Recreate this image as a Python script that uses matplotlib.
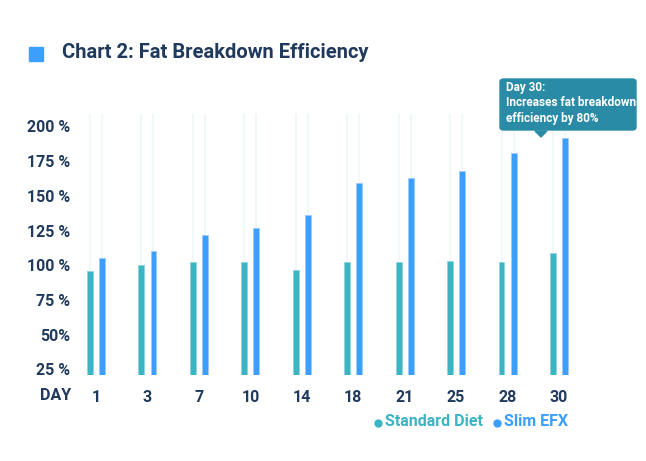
import numpy as np
import matplotlib
matplotlib.use('Agg')
import matplotlib.pyplot as plt
from matplotlib.patches import FancyBboxPatch, Polygon, Rectangle
from matplotlib.lines import Line2D

plt.rcParams['font.family'] = ['Roboto', 'DejaVu Sans']

days = ['1', '3', '7', '10', '14', '18', '21', '25', '28', '30']
standard_diet = [95.5, 100.5, 102.5, 102.5, 96.5, 102.5, 102.5, 103, 102.5, 108.5]
slim_efx = [105.5, 110, 122, 126.5, 136.5, 159, 162.5, 168, 181, 191.5]
y_ticks = [25, 50, 75, 100, 125, 150, 175, 200]
y_tick_labels = ['25 %', '50%', '75 %', '100 %', '125 %', '150 %', '175 %', '200 %']

TEAL = '#3bb5c3'
BLUE = '#3d9ffd'
NAVY = '#1f3a5c'
TIP = '#2a8ba7'
W, H = 646, 461

fig = plt.figure(figsize=(W / 100, H / 100), dpi=100)
ax = fig.add_axes([70.3 / W, (H - 375) / H, 514.4 / W, 269.8 / H])

x = np.arange(len(days))
off = 0.117
bw = 0.115
base = 21

# faint tracks behind each bar
ax.vlines(x - off, base, 209, color='#eef7fa', lw=1.2, zorder=1)
ax.vlines(x + off, base, 209, color='#eef7fa', lw=1.2, zorder=1)

ax.bar(x - off, np.array(standard_diet) - base, bottom=base, width=bw,
       color=TEAL, edgecolor='#8fd3dc', linewidth=0.6, zorder=2)
ax.bar(x + off, np.array(slim_efx) - base, bottom=base, width=bw,
       color=BLUE, edgecolor='#9ccbff', linewidth=0.6, zorder=2)

ax.set_xlim(-0.5, len(days) - 0.5)
ax.set_ylim(base, 215.2)
ax.set_xticks(x)
ax.set_xticklabels(days)
ax.set_yticks(y_ticks)
ax.set_yticklabels(y_tick_labels)
ax.tick_params(length=0, labelsize=11.5, labelcolor=NAVY, pad=0)
ax.tick_params(axis='x', pad=11)
for lab in ax.get_xticklabels() + ax.get_yticklabels():
    lab.set_fontweight('bold')
for s in ax.spines.values():
    s.set_visible(False)

fig.text(40 / W, 1 - 396 / H, 'DAY', fontsize=11.5, fontweight='bold',
         color=NAVY, va='center', ha='left')

# title with square marker
fig.patches.append(Rectangle((29 / W, 1 - 61 / H), 14 / W, 14 / H,
                             transform=fig.transFigure, color=BLUE))
fig.text(62 / W, 1 - 53 / H, 'Chart 2: Fat Breakdown Efficiency', fontsize=14.5,
         fontweight='bold', color=NAVY, va='center', ha='left')

# legend
fig.add_artist(Line2D([378 / W], [1 - 423 / H], marker='o', markersize=5,
                      color=TEAL, transform=fig.transFigure))
fig.text(385 / W, 1 - 422 / H, 'Standard Diet', fontsize=11.5, fontweight='bold',
         color=TEAL, va='center')
fig.add_artist(Line2D([497 / W], [1 - 423 / H], marker='o', markersize=5,
                      color=BLUE, transform=fig.transFigure))
fig.text(504 / W, 1 - 422 / H, 'Slim EFX', fontsize=11.5, fontweight='bold',
         color=BLUE, va='center')

# tooltip
fig.patches.append(FancyBboxPatch((500 / W, 1 - 130 / H), 136 / W, 51 / H,
                                  boxstyle='round,pad=0,rounding_size=0.006',
                                  transform=fig.transFigure, color=TIP))
fig.patches.append(Polygon([(535 / W, 1 - 131 / H), (547 / W, 1 - 131 / H),
                            (541 / W, 1 - 137 / H)], closed=True,
                           transform=fig.transFigure, color=TIP))
fig.text(506 / W, 1 - 103 / H,
         'Day 30:\nIncreases fat breakdown\nefficiency by 80%',
         fontsize=8.5, fontweight='bold', color='white', va='center',
         ha='left', linespacing=1.25)

fig.savefig('out.png', dpi=100)
